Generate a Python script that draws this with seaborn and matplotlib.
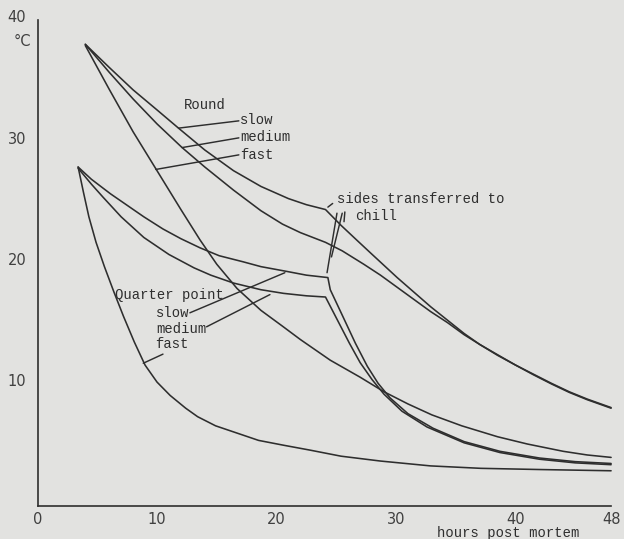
import pandas as pd
import seaborn as sns
import matplotlib.pyplot as plt
import matplotlib.transforms as mtransforms

# temperature (deg C) against hours post mortem
round_slow_h = [4.0, 6.0, 8.0, 10.0, 11.8, 14.0, 16.4, 18.7, 21.0, 22.5, 24.1,
                25.4, 26.7, 27.9, 29.0, 30.1, 31.5, 32.9, 34.3, 35.7, 37.0, 38.5,
                40.0, 41.5, 43.0, 44.5, 46.0, 48.0]
round_slow_t = [38.0, 36.1, 34.25, 32.6, 31.1, 29.3, 27.6, 26.3, 25.3, 24.8, 24.4,
                23.1, 21.9, 20.8, 19.8, 18.8, 17.6, 16.4, 15.3, 14.2, 13.3, 12.4,
                11.6, 10.85, 10.1, 9.4, 8.8, 8.1]

round_medium_h = [4.0, 6.0, 8.0, 10.0, 12.1, 14.0, 16.4, 18.7, 20.5, 22.0, 24.1,
                  25.5, 27.3, 28.7, 30.1, 31.5, 32.9, 34.3, 35.7, 37.0, 38.5,
                  40.0, 41.5, 43.0, 44.5, 46.0, 48.0]
round_medium_t = [38.0, 35.7, 33.5, 31.45, 29.5, 27.9, 26.0, 24.3, 23.2, 22.5, 21.7,
                  21.0, 19.9, 19.0, 18.0, 17.0, 16.0, 15.1, 14.1, 13.3, 12.45,
                  11.6, 10.8, 10.05, 9.35, 8.75, 8.05]

round_fast_h = [4.0, 6.0, 8.0, 10.0, 12.0, 13.6, 15.0, 16.7, 18.7, 20.5, 22.0,
                24.5, 27.0, 29.0, 31.0, 33.0, 35.5, 38.5, 41.0, 44.0, 46.0, 48.0]
round_fast_t = [37.9, 34.3, 30.8, 27.6, 24.4, 21.9, 19.9, 17.9, 16.1, 14.8, 13.7,
                12.0, 10.6, 9.4, 8.4, 7.5, 6.6, 5.7, 5.1, 4.5, 4.2, 4.0]

quarter_slow_h = [3.4, 4.5, 6.1, 7.5, 8.9, 10.5, 12.0, 13.6, 15.2, 17.2, 18.7,
                  20.9, 22.5, 24.3, 24.5, 25.6, 26.6, 27.6, 28.5, 29.5, 31.0,
                  33.1, 35.7, 38.7, 42.0, 45.0, 48.0]
quarter_slow_t = [27.9, 26.9, 25.7, 24.75, 23.8, 22.8, 22.0, 21.25, 20.6, 20.1, 19.7,
                  19.3, 19.0, 18.8, 17.8, 15.5, 13.4, 11.5, 10.1, 8.9, 7.6,
                  6.4, 5.3, 4.5, 3.95, 3.65, 3.5]

quarter_medium_h = [3.4, 4.5, 5.5, 7.0, 8.9, 11.0, 13.1, 14.5, 16.4, 18.7, 20.6,
                    22.5, 24.1, 25.1, 26.1, 27.0, 28.0, 29.0, 30.5, 32.6, 35.7,
                    38.7, 42.0, 45.0, 48.0]
quarter_medium_t = [27.8, 26.5, 25.4, 23.8, 22.1, 20.7, 19.6, 19.0, 18.35, 17.8, 17.5,
                    17.3, 17.2, 15.3, 13.4, 11.8, 10.4, 9.2, 7.8, 6.5, 5.2,
                    4.4, 3.85, 3.55, 3.4]

quarter_fast_h = [3.4, 3.85, 4.3, 4.9, 5.6, 6.4, 7.2, 8.1, 9.0, 10.0, 11.1, 12.4,
                  13.4, 14.9, 16.4, 18.5, 20.6, 22.8, 25.4, 28.7, 32.9, 37.1,
                  42.1, 48.0]
quarter_fast_t = [27.9, 25.8, 23.8, 21.7, 19.7, 17.6, 15.6, 13.5, 11.6, 10.2, 9.1, 8.05,
                  7.35, 6.6, 6.1, 5.4, 5.0, 4.6, 4.1, 3.7, 3.3, 3.1,
                  3.0, 2.9]

x_ticks = [0, 10, 20, 30, 40, 48]
y_ticks = [10, 20, 30, 40]

curves = {
    'round slow': (round_slow_h, round_slow_t),
    'round medium': (round_medium_h, round_medium_t),
    'round fast': (round_fast_h, round_fast_t),
    'quarter slow': (quarter_slow_h, quarter_slow_t),
    'quarter medium': (quarter_medium_h, quarter_medium_t),
    'quarter fast': (quarter_fast_h, quarter_fast_t),
}
df = pd.concat([pd.DataFrame({'hours': h, 'temp': t, 'curve': name})
                for name, (h, t) in curves.items()], ignore_index=True)

sns.set_theme(style='white')
paper = '#e2e2e0'
ink = '#2e2e2e'
mono = 'Liberation Mono'

fig = plt.figure(figsize=(6.24, 5.39), dpi=100, facecolor=paper)
ax = fig.add_axes([37.5 / 624, 33 / 539, 573.6 / 624, 486 / 539])
ax.set_facecolor(paper)

sns.lineplot(data=df, x='hours', y='temp', units='curve', estimator=None,
             sort=False, color=ink, linewidth=1.15, clip_on=False,
             solid_joinstyle='round', ax=ax)

ax.set_xlim(0, 48)
ax.set_ylim(0, 40)
ax.set_xlabel('')
ax.set_ylabel('')
sns.despine(ax=ax)
for side in ['left', 'bottom']:
    ax.spines[side].set_color(ink)
    ax.spines[side].set_linewidth(1.2)

ax.set_xticks(x_ticks)
ax.set_yticks(y_ticks)
ax.tick_params(axis='y', direction='in', length=13, width=1.2, color=ink,
               pad=8, labelsize=10.5, labelcolor='#404040')
ax.tick_params(axis='x', direction='in', length=10.5, width=1.2, color=ink,
               pad=4.5, labelsize=10.5, labelcolor='#404040')
shift = mtransforms.ScaledTranslation(0, 0.04, fig.dpi_scale_trans)
for lbl in ax.get_yticklabels():
    lbl.set_transform(lbl.get_transform() + shift)

ax.text(-1.3, 38.2, '°C', fontsize=10.5, color='#404040', ha='center', va='center')
ax.text(39.4, -2.2, 'hours post mortem', family=mono, fontsize=10, color=ink,
        ha='center', va='center')


def leader(start, end):
    ax.annotate('', xy=start, xytext=end,
                arrowprops=dict(arrowstyle='-', color=ink, lw=1.05,
                                shrinkA=0, shrinkB=0))


def label(x, y, s, ha='left'):
    ax.text(x, y, s, family=mono, fontsize=10, color=ink, ha=ha, va='center')


# Round labels
label(14.0, 33.0, 'Round', ha='center')
label(16.95, 31.75, 'slow')
label(16.95, 30.35, 'medium')
label(16.95, 28.9, 'fast')
leader((11.8, 31.1), (16.85, 31.7))
leader((12.1, 29.5), (16.85, 30.3))
leader((9.9, 27.7), (16.85, 28.9))

# Quarter point labels
label(6.5, 17.4, 'Quarter point')
label(9.95, 15.9, 'slow')
label(9.9, 14.6, 'medium')
label(9.85, 13.3, 'fast')
leader((20.7, 19.2), (12.75, 15.9))
leader((19.45, 17.4), (14.15, 14.75))
leader((8.85, 11.75), (10.5, 12.5))

# transfer to chill
label(25.05, 25.3, 'sides transferred to')
label(26.6, 23.9, 'chill')
leader((24.3, 24.6), (24.7, 24.9))
leader((25.06, 24.1), (24.23, 19.2))
leader((25.5, 24.1), (24.6, 20.5))
leader((25.72, 24.2), (25.65, 23.4))

fig.savefig('out.png', dpi=100, facecolor=paper)
